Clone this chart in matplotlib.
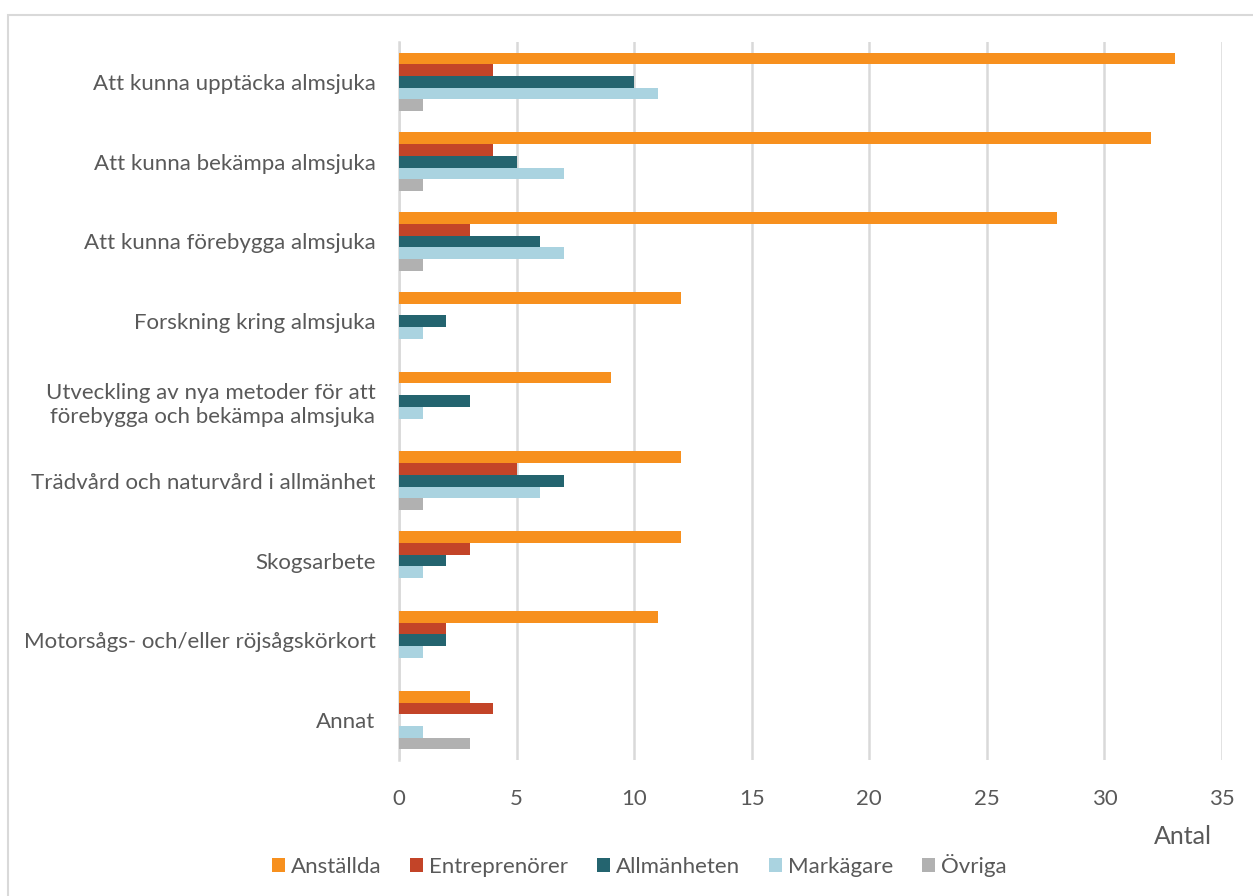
import matplotlib

matplotlib.use("Agg")

import matplotlib.pyplot as plt
import numpy as np
from matplotlib.patches import Rectangle

plt.rcParams["font.family"] = ["Lato", "DejaVu Sans"]

CATEGORIES = [
    "Att kunna upptäcka almsjuka",
    "Att kunna bekämpa almsjuka",
    "Att kunna förebygga almsjuka",
    "Forskning kring almsjuka",
    "Utveckling av nya metoder för att\nförebygga och bekämpa almsjuka",
    "Trädvård och naturvård i allmänhet",
    "Skogsarbete",
    "Motorsågs- och/eller röjsågskörkort",
    "Annat",
]
SERIES = ["Anställda", "Entreprenörer", "Allmänheten", "Markägare", "Övriga"]
ANSTALLDA = [33, 32, 28, 12, 9, 12, 12, 11, 3]
ENTREPRENORER = [4, 4, 3, 0, 0, 5, 3, 2, 4]
ALLMANHETEN = [10, 5, 6, 2, 3, 7, 2, 2, 0]
MARKAGARE = [11, 7, 7, 1, 1, 6, 1, 1, 1]
OVRIGA = [1, 1, 1, 0, 0, 1, 0, 0, 3]
COLORS = ["#F7901E", "#C34428", "#24646F", "#AAD3E0", "#B1B1B1"]
X_TICKS = [0, 5, 10, 15, 20, 25, 30, 35]

TEXT = "#595959"
W, H = 1253, 896

fig = plt.figure(figsize=(W / 100, H / 100), dpi=100)
ax = fig.add_axes([399 / W, 1 - 760 / H, (1222 - 399) / W, (760 - 42) / H])

y = np.arange(len(CATEGORIES))
bar_h = 0.147
values = [ANSTALLDA, ENTREPRENORER, ALLMANHETEN, MARKAGARE, OVRIGA]
for i, (name, vals, color) in enumerate(zip(SERIES, values, COLORS)):
    offset = (i - 2) * bar_h
    ax.barh(y + offset, vals, height=bar_h, color=color, label=name, zorder=3)

ax.set_xlim(0, 35)
ax.set_ylim(len(CATEGORIES) - 0.5, -0.5)
ax.set_xticks(X_TICKS)
ax.set_yticks(y)
ax.set_yticklabels(CATEGORIES, ha="right", ma="right", linespacing=1.25)
ax.tick_params(axis="y", length=0, pad=17, labelsize=16, labelcolor=TEXT)
ax.tick_params(axis="x", length=0, pad=21, labelsize=16, labelcolor=TEXT)
ax.grid(axis="x", color="#D9D9D9", linewidth=1.8, zorder=0)
for side in ["top", "right", "bottom"]:
    ax.spines[side].set_visible(False)
ax.spines["left"].set_color("#D9D9D9")
ax.spines["left"].set_linewidth(1.8)

fig.text(1183 / W, 1 - 836 / H, "Antal", ha="center", va="center",
         fontsize=18, color=TEXT)

handles, labels = ax.get_legend_handles_labels()
fig.legend(handles, labels, loc="center", bbox_to_anchor=(639 / W, 1 - 865 / H),
           ncol=5, frameon=False, fontsize=16, labelcolor=TEXT,
           handlelength=0.6, handleheight=0.6, handletextpad=0.25, columnspacing=1.3)

fig.patches.append(Rectangle((8 / W, -0.01), 1.2, 1 - 15 / H + 0.01,
                             transform=fig.transFigure, fill=False,
                             edgecolor="#D9D9D9", linewidth=1.5))

fig.savefig("out.png", dpi=100)
